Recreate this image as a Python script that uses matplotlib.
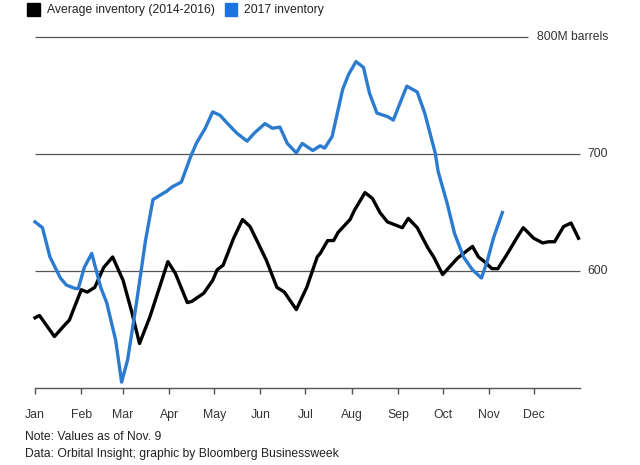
import matplotlib.pyplot as plt
from matplotlib.patches import Rectangle

plt.rcParams['font.family'] = ['Liberation Sans', 'DejaVu Sans']

# day of year, million barrels
avg_days = [0, 3, 13, 20, 23, 31, 35, 40, 46, 52, 59, 65, 70, 77, 89, 94, 102, 105,
            113, 119, 122, 126, 133, 139, 144, 149, 155, 162, 167, 175, 182, 189, 191,
            196, 200, 203, 211, 214, 221, 226, 231, 236, 242, 246, 250, 256, 263, 267,
            273, 283, 287, 293, 297, 301, 306, 310, 316, 323, 327, 334, 340, 344, 348,
            354, 359, 364]
avg_vals = [560, 562, 544, 554, 558, 584, 582, 586, 603, 612, 592, 564, 538, 561, 608,
            598, 573, 574, 581, 592, 601, 605, 628, 644, 638, 625, 609, 586, 582, 567,
            586, 612, 615, 626, 626, 633, 644, 652, 667, 662, 650, 642, 639, 637, 645,
            637, 620, 612, 597, 611, 615, 621, 612, 608, 602, 602, 614, 629, 637, 628,
            624, 625, 625, 638, 641, 628]

inv_days = [0, 5, 10, 17, 21, 27, 29, 33, 38, 44, 48, 54, 58, 62, 68, 74, 79, 84, 88,
            92, 98, 104, 108, 114, 119, 124, 129, 135, 142, 147, 154, 159, 164, 169,
            175, 179, 186, 191, 194, 199, 206, 210, 215, 220, 224, 229, 236, 240, 244,
            249, 256, 261, 268, 270, 276, 281, 287, 293, 299, 303, 307, 313]
inv_vals = [642, 637, 612, 594, 588, 585, 585, 603, 615, 586, 573, 541, 505, 524, 573,
            626, 661, 665, 668, 672, 676, 697, 709, 722, 736, 733, 726, 718, 711, 718,
            726, 722, 723, 709, 701, 709, 703, 707, 705, 715, 755, 768, 779, 774, 752,
            735, 732, 729, 742, 758, 753, 735, 701, 685, 658, 632, 612, 601, 594, 609,
            628, 650]

month_starts = [0, 31, 59, 90, 120, 151, 181, 212, 243, 273, 304, 334]
month_labels = ['Jan', 'Feb', 'Mar', 'Apr', 'May', 'Jun', 'Jul', 'Aug', 'Sep', 'Oct',
                'Nov', 'Dec']

fig = plt.figure(figsize=(6.4, 4.65), dpi=100)
ax = fig.add_axes([35 / 640, 77 / 465, 545 / 640, 351 / 465])
ax.set_xlim(0, 365)
ax.set_ylim(500, 800)

grid_col = '#555555'
ax.hlines(800, 0, 330, color=grid_col, lw=0.9, clip_on=False)
ax.hlines([700, 600], 0, 365, color=grid_col, lw=0.9, clip_on=False)
ax.text(336, 800, '800M barrels', va='center', ha='left', fontsize=8.7, color='#333333')
ax.text(370, 700, '700', va='center', ha='left', fontsize=8.7, color='#333333')
ax.text(370, 600, '600', va='center', ha='left', fontsize=8.7, color='#333333')

ax.plot(avg_days, avg_vals, color='black', lw=2.4, solid_joinstyle='round', clip_on=False)
ax.plot(inv_days, inv_vals, color='#2b7bd0', lw=2.4, solid_joinstyle='round', clip_on=False)

for s in ['top', 'right', 'left']:
    ax.spines[s].set_visible(False)
ax.spines['bottom'].set_color(grid_col)
ax.spines['bottom'].set_linewidth(1.0)
ax.set_yticks([])
ax.set_xticks(month_starts)
ax.set_xticklabels(month_labels)
ax.tick_params(axis='x', length=4, width=1.0, color=grid_col, pad=11,
               labelsize=8.8, labelcolor='#333333')

# legend
fig.patches.append(Rectangle((27 / 640, 1 - 16 / 465), 13 / 640, 13 / 465,
                             transform=fig.transFigure, color='black'))
fig.patches.append(Rectangle((225 / 640, 1 - 16 / 465), 12 / 640, 13 / 465,
                             transform=fig.transFigure, color='#1a73e0'))
fig.text(47 / 640, 1 - 9.5 / 465, 'Average inventory (2014-2016)', va='center',
         fontsize=8.7, color='#222222')
fig.text(244 / 640, 1 - 9.5 / 465, '2017 inventory', va='center', fontsize=8.7,
         color='#222222')

fig.text(25 / 640, 1 - 437 / 465, 'Note: Values as of Nov. 9', va='center',
         fontsize=8.7, color='#222222')
fig.text(25 / 640, 1 - 454 / 465, 'Data: Orbital Insight; graphic by Bloomberg Businessweek',
         va='center', fontsize=8.7, color='#222222')

fig.savefig('out.png', dpi=100)
